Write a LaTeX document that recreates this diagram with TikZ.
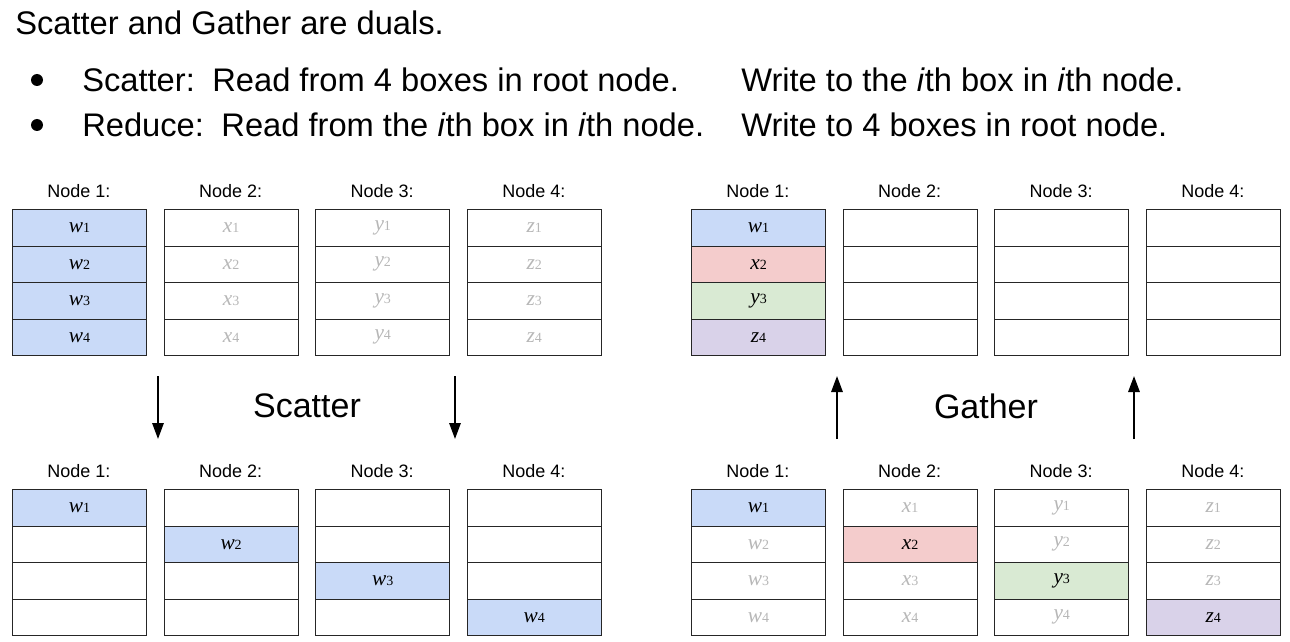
\documentclass[tikz,border=0pt]{standalone}
\usepackage{fontspec}
\setmainfont{Liberation Sans}
\newfontfamily\serifit{Liberation Serif}
\usetikzlibrary{arrows.meta}
\definecolor{cblue}{HTML}{C9DAF8}
\definecolor{cred}{HTML}{F4CCCC}
\definecolor{cgreen}{HTML}{D9EAD3}
\definecolor{cpurple}{HTML}{D9D2E9}
\definecolor{cgrey}{HTML}{B7B7B7}
\newcommand\vv[2]{{\serifit\fontsize{16}{16}\selectfont\itshape #1}{\serifit\fontsize{10.5}{10.5}\selectfont #2}}
\tikzset{
  cell/.style={draw=black!85, line width=0.8pt, minimum width=100.5pt, minimum height=27.4pt, inner sep=0pt, anchor=north west},
  hi1/.style={fill=cblue, text=black},
  hi2/.style={fill=cred, text=black},
  hi3/.style={fill=cgreen, text=black},
  hi4/.style={fill=cpurple, text=black},
  lo/.style={fill=white, text=cgrey},
  nlabel/.style={font=\fontsize{13.5}{15}\selectfont, inner sep=0pt},
  big/.style={font=\fontsize{24.5}{28}\selectfont, inner sep=0pt, anchor=west},
  title/.style={font=\fontsize{25.5}{28}\selectfont, inner sep=0pt},
  arr/.style={line width=1.5pt, -{Triangle[length=12pt,width=8.5pt]}}
}
\begin{document}
\begin{tikzpicture}[x=0.75pt,y=-0.75pt]
\useasboundingbox (0,0) rectangle (1290,642);
% header
\node[big] (hdr) at (15,23) {Scatter and Gather are duals.};
\fill (37,80) circle (6);
\fill (37,125) circle (6);
\node[big] (b1a) at (82,80) {Scatter:\, Read from 4 boxes in root node.};
\node[big] (b1b) at (741,80) {Write to the \textit{i}th box in \textit{i}th node.};
\node[big] (b2a) at (82,125) {Reduce:\, Read from the \textit{i}th box in \textit{i}th node.};
\node[big] (b2b) at (741,125) {Write to 4 boxes in root node.};
% groups
\foreach \c/\l in {1/w,2/x,3/y,4/z}{
  \pgfmathsetmacro\xl{12+151.6*(\c-1)}
  \pgfmathsetmacro\xr{691+151.6*(\c-1)}
  \node[nlabel] (TLh\c) at (\xl+67,191) {Node \c:};
  \node[nlabel] (BLh\c) at (\xl+67,471) {Node \c:};
  \node[nlabel] (TRh\c) at (\xr+67,191) {Node \c:};
  \node[nlabel] (BRh\c) at (\xr+67,471) {Node \c:};
  \foreach \r in {1,2,3,4}{
    \pgfmathsetmacro\yt{209+36.5*(\r-1)}
    \pgfmathsetmacro\yb{489+36.5*(\r-1)}
    % top-left: root has w's
    \ifnum\c=1
      \node[cell,hi1] (TL\c\r) at (\xl,\yt) {\vv{w}{\r}};
    \else
      \node[cell,lo] (TL\c\r) at (\xl,\yt) {\vv{\l}{\r}};
    \fi
    % bottom-left: scattered
    \ifnum\r=\c
      \node[cell,hi1] (BL\c\r) at (\xl,\yb) {\vv{w}{\r}};
    \else
      \node[cell,lo] (BL\c\r) at (\xl,\yb) {};
    \fi
    % bottom-right
    \ifnum\r=\c
      \node[cell,hi\c] (BR\c\r) at (\xr,\yb) {\vv{\l}{\r}};
    \else
      \node[cell,lo] (BR\c\r) at (\xr,\yb) {\vv{\l}{\r}};
    \fi
    % top-right
    \ifnum\c>1
      \node[cell,lo] (TR\c\r) at (\xr,\yt) {};
    \fi
  }
}
\node[cell,hi1] (TR11) at (691,209) {\vv{w}{1}};
\node[cell,hi2] (TR12) at (691,245.5) {\vv{x}{2}};
\node[cell,hi3] (TR13) at (691,282) {\vv{y}{3}};
\node[cell,hi4] (TR14) at (691,318.5) {\vv{z}{4}};
% arrows and labels
\coordinate (s1a) at (158,376); \coordinate (s1b) at (158,439);
\coordinate (s2a) at (455,376); \coordinate (s2b) at (455,439);
\coordinate (g1a) at (837,439); \coordinate (g1b) at (837,376);
\coordinate (g2a) at (1134,439); \coordinate (g2b) at (1134,376);
\draw[arr] (s1a) -- (s1b);
\draw[arr] (s2a) -- (s2b);
\draw[arr] (g1a) -- (g1b);
\draw[arr] (g2a) -- (g2b);
\node[title] (sc) at (307,406) {Scatter};
\node[title] (ga) at (986,406) {Gather};
\end{tikzpicture}
\end{document}
